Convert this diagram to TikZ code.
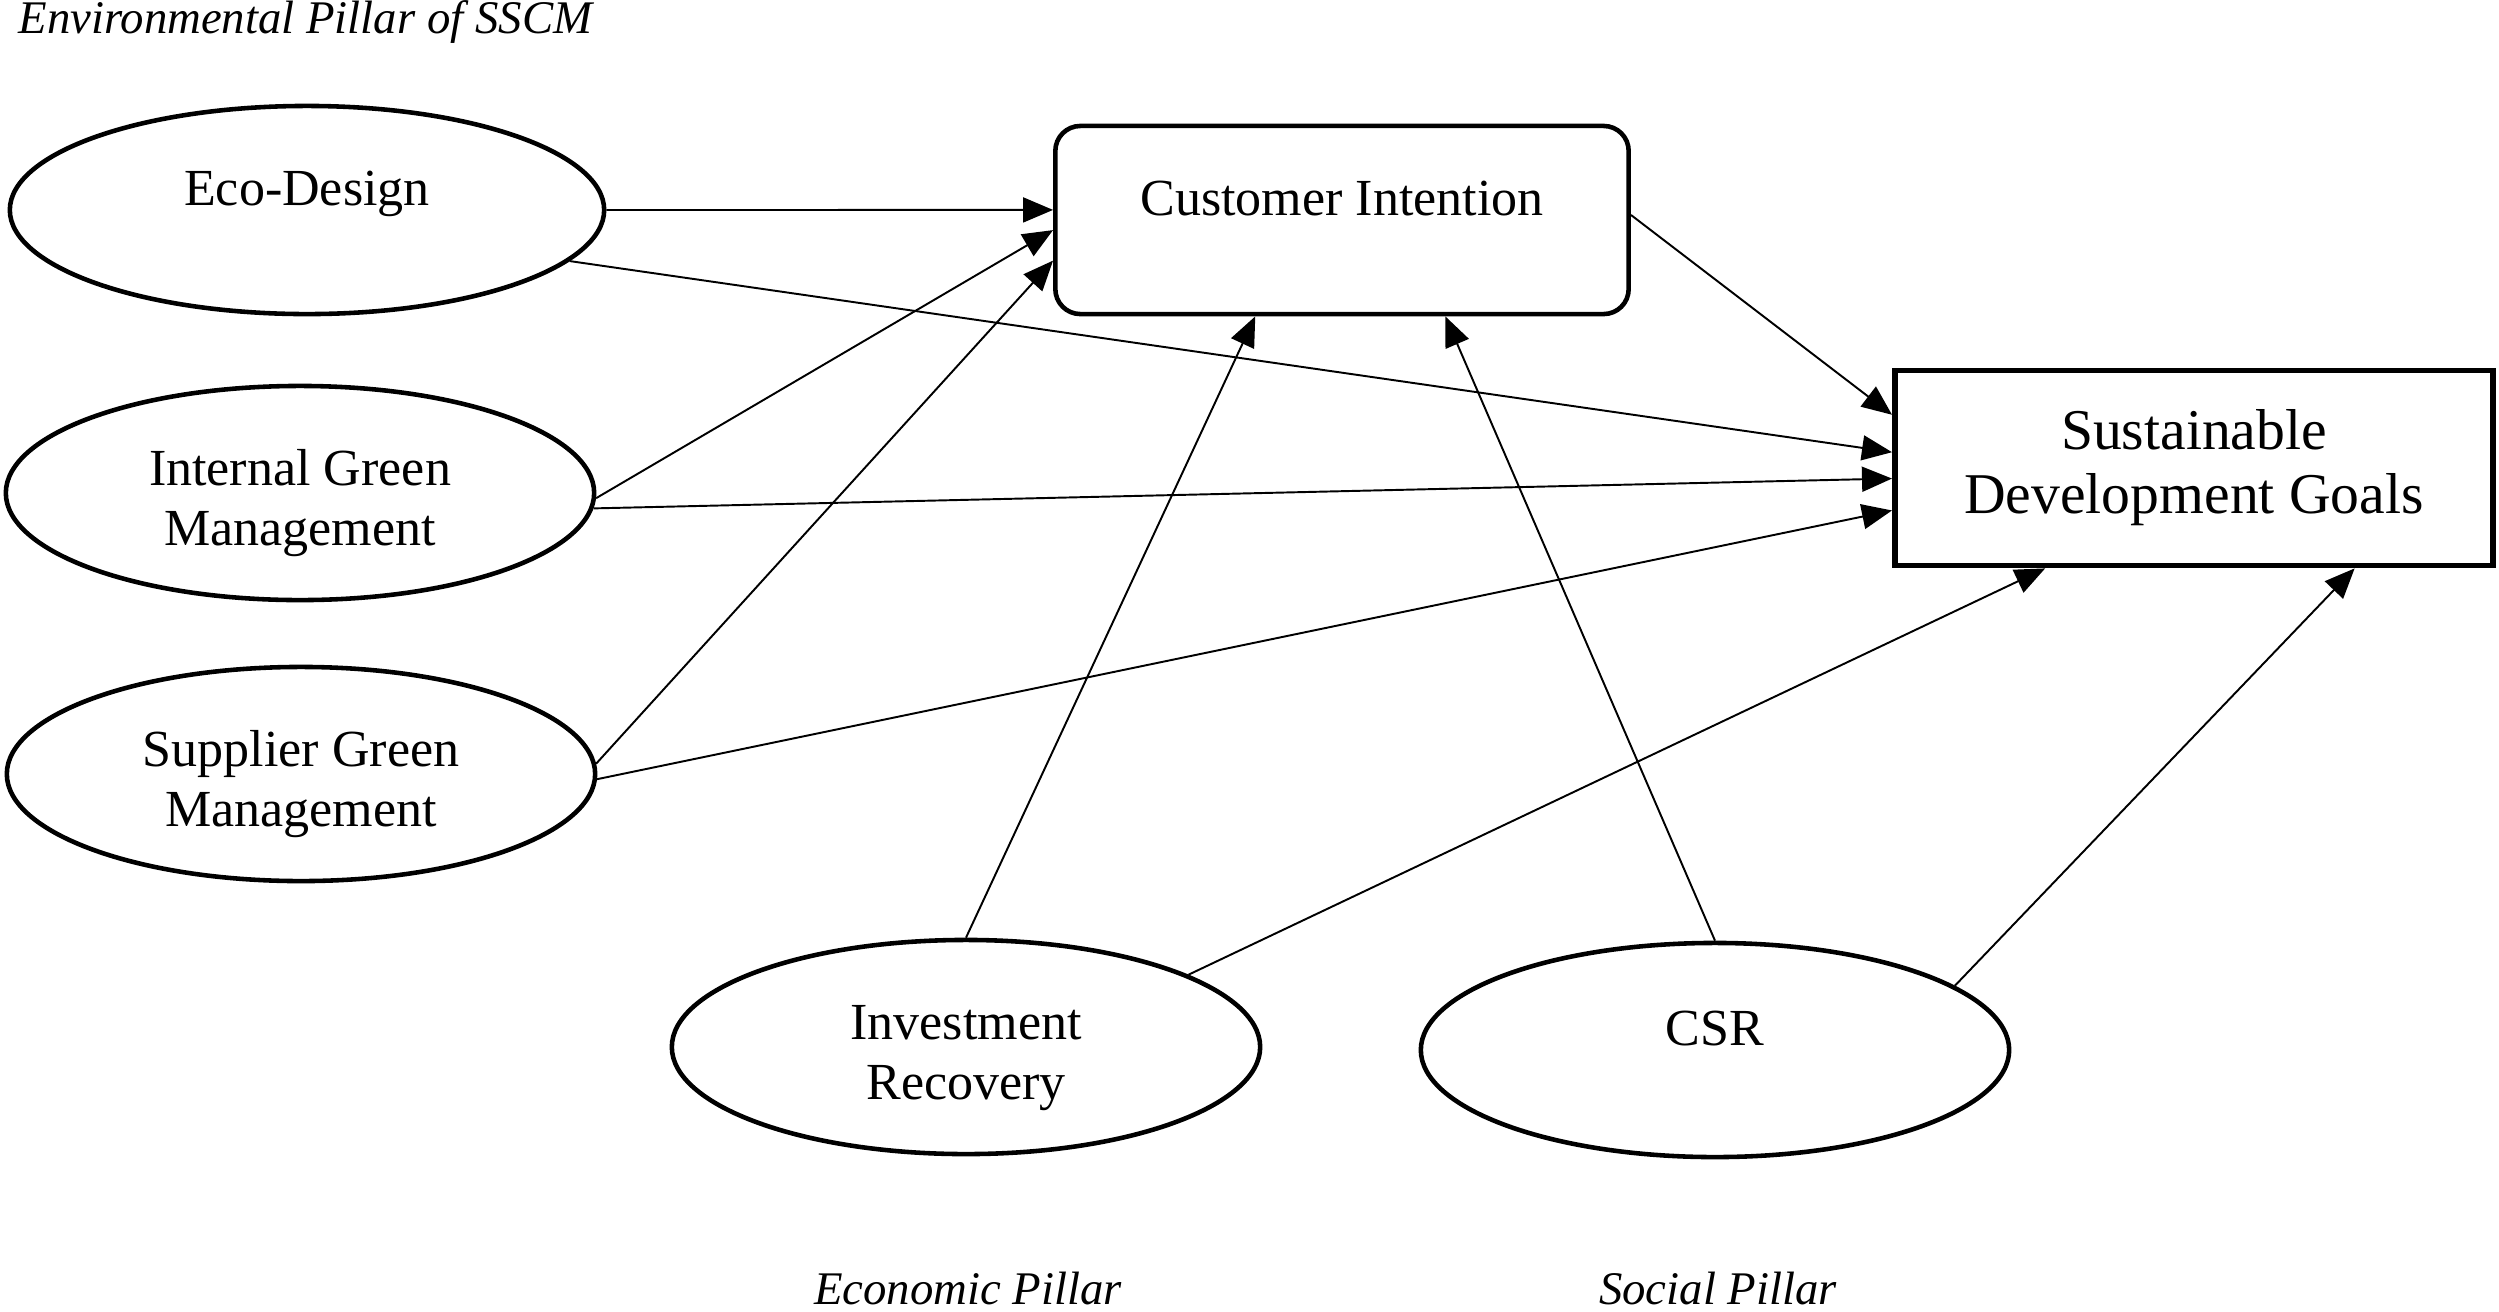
\documentclass[tikz,border=0pt]{standalone}
\usepackage{fontspec}
\setmainfont{Liberation Serif}
\usetikzlibrary{shapes.geometric,arrows.meta}
\begin{document}
\begin{tikzpicture}[x=0.01cm,y=-0.01cm,
        construct/.style={draw,ellipse,line width=1.3pt,minimum width=5.88cm,minimum height=2.14cm,inner sep=0pt,align=center,font=\fontsize{14.8}{17}\selectfont},
        oneline/.style={text height=0.36cm,text depth=0.46cm},
        twoline/.style={text height=1.16cm,text depth=0.11cm},
        link/.style={line width=0.55pt,-{Triangle[length=0.3cm,width=0.25cm]}},
        pillar/.style={font=\fontsize{13.3}{15}\selectfont\itshape,anchor=base}]
        \useasboundingbox (0,0) rectangle (2499,1311);
        \node[pillar,anchor=base west] (env) at (6,33) {Environmental Pillar of SSCM};
        \node[pillar] (eco-pillar) at (968,1304) {Economic Pillar};
        \node[pillar] (soc-pillar) at (1718,1304) {Social Pillar};
        \node[construct,oneline,minimum width=5.94cm,minimum height=2.08cm] (eco) at (307,210) {Eco-Design};
        \node[construct,twoline] (igm) at (300,493) {Internal Green\\Management};
        \node[construct,twoline] (sgm) at (301,774) {Supplier Green\\Management};
        \node[construct,twoline] (ir) at (966,1047) {Investment\\Recovery};
        \node[construct,oneline] (csr) at (1715,1050) {CSR};
        \node[draw,rounded corners=0.25cm,line width=1.3pt,minimum width=5.73cm,minimum height=1.88cm,oneline,font=\fontsize{14.8}{16.4}\selectfont] (ci) at (1342,220) {Customer Intention};
        \node[draw,line width=1.6pt,minimum width=5.98cm,minimum height=1.95cm,align=center,font=\fontsize{16.4}{18.2}\selectfont] (sdg) at (2194,468) {Sustainable\\Development Goals};
        \draw[link] (eco.east) -- (ci.178);
        \draw[link] (igm.-1) -- (ci.182);
        \draw[link] (sgm.2) -- (ci.188);
        \draw[link] (ir.north) -- (ci.228);
        \draw[link] (csr.north) -- (ci.-43);
        \draw[link] (ci.1) -- (sdg.170);
        \draw[link] (eco.-11) -- (sdg.177);
        \draw[link] (igm.-3) -- (sdg.182);
        \draw[link] (sgm.-1) -- (sdg.188);
        \draw[link] (ir.18) -- (sdg.214);
        \draw[link] (csr.15) -- (sdg.-32);
    \end{tikzpicture}
\end{document}
